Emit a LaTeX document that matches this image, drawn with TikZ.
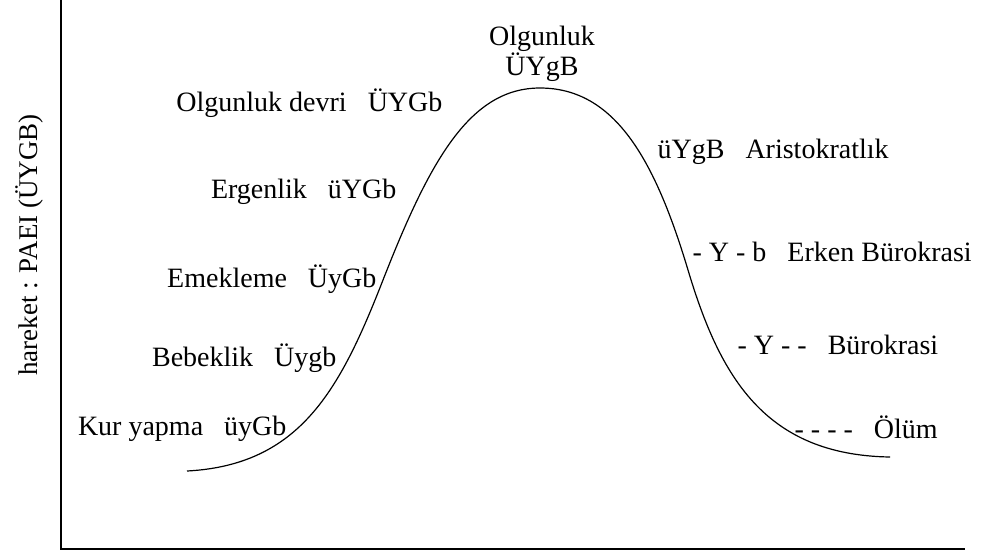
\documentclass[tikz,border=0pt]{standalone}
\usepackage{fontspec}
\setmainfont{Liberation Serif}
\usepackage{tikz}
\usetikzlibrary{arrows}

\begin{document}
\begin{tikzpicture}[x=0.5pt,y=-0.5pt,semithick]
  \tikzstyle{every node}=[inner sep=0pt,font=\fontsize{14}{16}\selectfont]
  \tikzstyle{left phase}=[anchor=east]
  \tikzstyle{right phase}=[anchor=west]
\useasboundingbox (0,0) rectangle (989,553);
% axes
\coordinate (top) at (61,0);
\coordinate (origin) at (61,549);
\coordinate (end) at (965,549);
\draw[line width=1pt] (top) -- (origin) -- (end);
\node[rotate=90,font=\fontsize{13.5}{16}\selectfont] (axis) at (29,245) {hareket : PAEI (ÜYGB)};
% life cycle curve
\coordinate (birth) at (187,471);
\coordinate (rise) at (383,280);
\coordinate (prime) at (540,88);
\coordinate (fall) at (688,270);
\coordinate (death) at (890,457);
\draw[line width=0.6pt] (birth) .. controls (300,465) and (340,390) .. (rise)
  .. controls (430,160) and (470,88) .. (prime)
  .. controls (615,88) and (655,160) .. (fall)
  .. controls (720,377) and (765,455) .. (death);
% growing stages
\node[anchor=base] (peak) at (542,45) {Olgunluk};
\node[anchor=base] (peakcode) at (542,75) {ÜYgB};
\node[left phase] (devri) at (443,103) {Olgunluk devri~~~ÜYGb};
\node[left phase] (ergen) at (397,192) {Ergenlik~~~üYGb};
\node[left phase] (emek) at (377,279) {Emekleme~~~ÜyGb};
\node[left phase] (bebek) at (337,358) {Bebeklik~~~Üygb};
\node[left phase] (kur) at (287,429) {Kur yapma~~~üyGb};
% ageing stages
\node[right phase] (aristo) at (657,152) {üYgB~~~Aristokratlık};
\node[right phase] (erken) at (692,252) {- Y - b~~~Erken Bürokrasi};
\node[right phase] (buro) at (737,345) {- Y - -~~~Bürokrasi};
\node[right phase] (olum) at (794,427) {- - - -~~~Ölüm};
\end{tikzpicture}
\end{document}
